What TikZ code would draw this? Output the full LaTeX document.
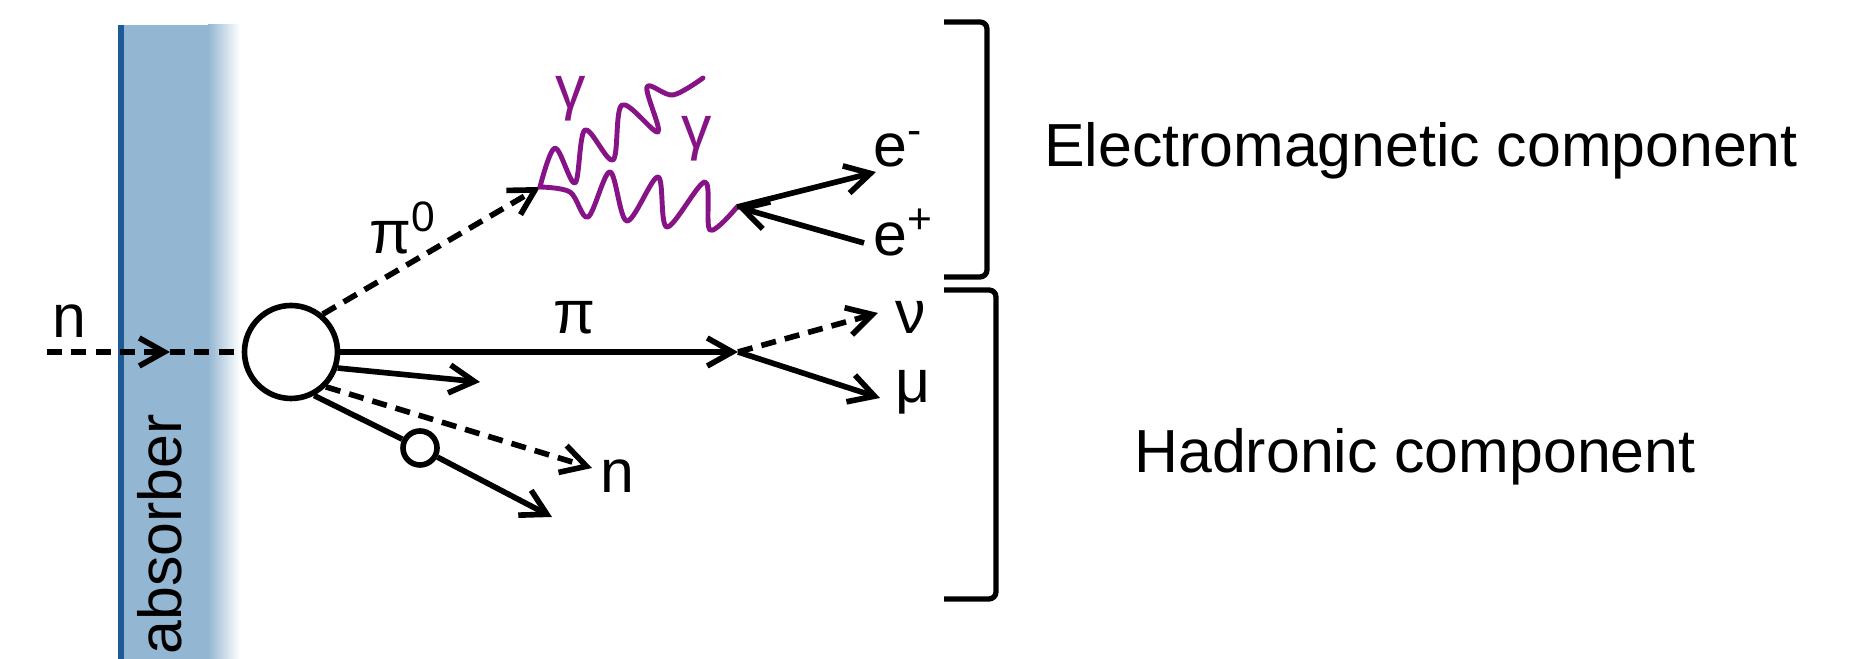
\documentclass[tikz,border=0pt]{standalone}
\usepackage{fontspec}
\setmainfont{Liberation Sans}
\usetikzlibrary{arrows.meta, positioning}
\definecolor{absblue}{RGB}{147,182,210}
\definecolor{absedge}{RGB}{30,90,150}
\definecolor{photon}{RGB}{135,20,135}
\begin{document}
\begin{tikzpicture}[
    lbl/.style={font=\fontsize{17.3}{20}\selectfont, inner sep=0pt},
    track/.style={line width=1.6pt},
    neutral/.style={track, dash pattern=on 4.3pt off 2.6pt},
    blob/.style={circle, draw=black, fill=white, line width=1.6pt, inner sep=0pt},
    photonline/.style={draw=photon, line width=1.4pt, line cap=round, line join=round},
    bracketline/.style={line width=1.5pt, rounded corners=2pt},
    >={Straight Barb[length=2.5mm, width=2.8mm]}]
    \useasboundingbox (0,0) rectangle (18.5,6.59);

    % absorber slab
    \fill[absblue] (1.18,0) rectangle (2.08,6.34);
    \shade[left color=absblue, right color=white] (2.08,0) rectangle (2.40,6.34);
    \draw[absedge, line width=0.06cm] (1.21,0) -- (1.21,6.34);
    \node[lbl, rotate=90, anchor=west] (absorber) at (1.60,0.04) {absorber};

    % incoming neutron
    \coordinate (nin) at (0.47,3.07);
    \coordinate (nmid) at (1.70,3.07);
    \node[lbl] (nlbl) at (0.69,3.38) {n};

    % interaction points
    \node[blob, minimum size=0.93cm] (vtx) at (2.91,3.07) {};
    \node[blob, minimum size=0.34cm] (sec) at (4.20,2.11) {};
    \draw[neutral, ->] (nin) -- (nmid);
    \draw[neutral] (nmid) -- (vtx);

    % end points of the tracks
    \coordinate (g0) at (5.40,4.72);
    \coordinate (g1end) at (7.03,5.81);
    \coordinate (pe) at (7.37,4.52);
    \coordinate (pv) at (7.38,3.07);
    \coordinate (emend) at (8.76,4.87);
    \coordinate (epstart) at (8.64,4.16);
    \coordinate (nuend) at (8.78,3.46);
    \coordinate (muend) at (8.80,2.61);
    \coordinate (shend) at (4.80,2.77);
    \coordinate (nend) at (5.92,1.91);
    \coordinate (secend) at (5.52,1.42);

    % neutral pion and photons
    \draw[neutral, ->] (vtx.50) -- (g0);
    \node[lbl, anchor=base] (pi0) at (4.03,4.05) {π\textsuperscript{0}};
    \draw[photonline] plot[smooth, tension=0.55] coordinates {(g0) (5.55,5.11) (5.75,4.76) (5.85,5.29)
        (6.13,4.99) (6.22,5.54) (6.58,5.27) (6.47,5.72) (6.73,5.64) (g1end)};
    \draw[photonline] plot[smooth, tension=0.55] coordinates {(g0) (5.70,4.67) (5.88,4.42) (6.10,4.87)
        (6.27,4.38) (6.58,4.82) (6.67,4.32) (7.05,4.77) (7.10,4.29) (pe)};
    \node[lbl, anchor=base, photon] (gam1) at (5.71,5.50) {γ};
    \node[lbl, anchor=base, photon] (gam2) at (6.97,5.10) {γ};

    % pair production
    \draw[track, ->] (pe) -- (emend);
    \draw[track, ->] (epstart) -- (pe);
    \node[lbl, anchor=base west] (elec) at (8.73,4.92) {e\textsuperscript{-}};
    \node[lbl, anchor=base west] (posi) at (8.73,4.03) {e\textsuperscript{+}};

    % charged pion decay
    \draw[track, ->] (vtx.east) -- (pv);
    \node[lbl, anchor=base] (pilbl) at (5.74,3.25) {π};
    \draw[neutral, ->] (pv) -- (nuend);
    \draw[track, ->] (pv) -- (muend);
    \node[lbl, right=0.17cm of nuend, yshift=-0.04cm] (nu) {ν};
    \node[lbl, right=0.15cm of muend, yshift=0.06cm] (mu) {μ};

    % other secondaries
    \draw[track, ->] (vtx.-19) -- (shend);
    \draw[neutral, ->] (vtx.-45) -- (nend);
    \node[lbl, anchor=base west] (nout) at (6.00,1.66) {n};
    \draw[track] (vtx.-62) -- (sec);
    \draw[track, ->] (sec) -- (secend);

    % brackets
    \draw[bracketline] (9.44,6.37) -- (9.87,6.37) -- (9.87,3.82) -- (9.44,3.82);
    \draw[bracketline] (9.44,3.69) -- (9.96,3.69) -- (9.96,0.60) -- (9.44,0.60);
    \node[lbl, anchor=base] (emtxt) at (14.21,4.92) {Electromagnetic component};
    \node[lbl, anchor=base] (hadtxt) at (14.15,1.86) {Hadronic component};
\end{tikzpicture}
\end{document}
